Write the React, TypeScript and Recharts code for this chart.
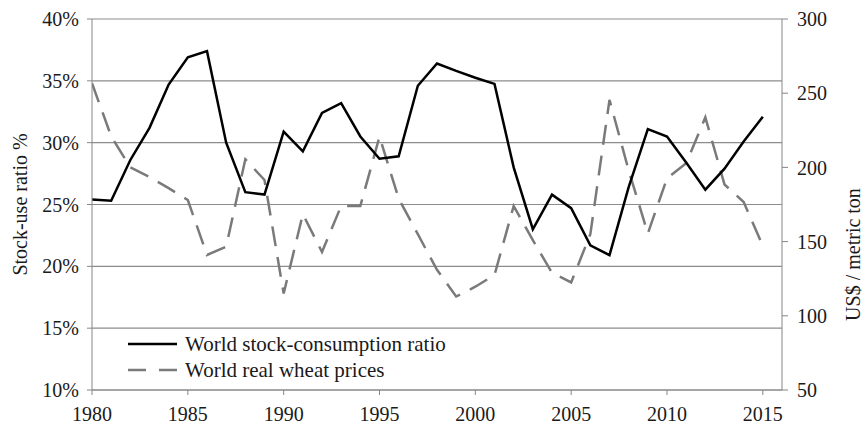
import { LineChart, Line, XAxis, YAxis, CartesianGrid, Legend, Label } from "recharts";

const YEARS = [
  1980, 1981, 1982, 1983, 1984, 1985, 1986, 1987, 1988, 1989,
  1990, 1991, 1992, 1993, 1994, 1995, 1996, 1997, 1998, 1999,
  2000, 2001, 2002, 2003, 2004, 2005, 2006, 2007, 2008, 2009,
  2010, 2011, 2012, 2013, 2014, 2015,
];

// stock-use ratio, %
const STOCK_RATIO = [
  25.4, 25.3, 28.6, 31.2, 34.7, 36.9, 37.4, 30.0, 26.0, 25.8,
  30.9, 29.3, 32.4, 33.2, 30.5, 28.7, 28.9, 34.6, 36.4, 35.8,
  35.25, 34.75, 28.0, 23.0, 25.8, 24.7, 21.7, 20.9, 26.4, 31.1,
  30.5, 28.4, 26.2, 27.9, 30.1, 32.1,
];

// real wheat price, US$ / metric ton
const WHEAT_PRICE = [
  256.7, 221, 200, 193.5, 186, 178, 141, 146.5, 205.5, 191.5,
  115, 168.5, 143, 174, 174, 220.7, 179, 155, 131, 113,
  119.6, 127.5, 174, 151, 129, 122.5, 155, 245.5, 198, 155.5,
  192.6, 202.8, 233.7, 188.5, 176.7, 147,
];

const X_TICKS = [1980, 1985, 1990, 1995, 2000, 2005, 2010, 2015];
const LEFT_TICKS = [10, 15, 20, 25, 30, 35, 40];
const RIGHT_TICKS = [50, 100, 150, 200, 250, 300];

const SERIES = [
  { key: "ratio", label: "World stock-consumption ratio", color: "#000000", dash: undefined },
  { key: "price", label: "World real wheat prices", color: "#7a7a7a", dash: "18 13" },
];

const FONT = "'Liberation Serif', 'DejaVu Serif', serif";
const AXIS = "#868686";
const tickStyle = { fontSize: 20, fill: "#1a1a1a", fontFamily: FONT };

const data = YEARS.map((y, i) => ({ year: y, ratio: STOCK_RATIO[i], price: WHEAT_PRICE[i] }));

const LegendBox = () => (
  <div style={{ fontFamily: FONT, fontSize: 21, color: "#1a1a1a", lineHeight: "26px" }}>
    {SERIES.map(s => (
      <div key={s.key} style={{ display: "flex", alignItems: "center" }}>
        <svg width={57} height={26}>
          <line x1={0} x2={49} y1={13} y2={13} stroke={s.color} strokeWidth={2.5} strokeDasharray={s.dash} />
        </svg>
        <span>{s.label}</span>
      </div>
    ))}
  </div>
);

const sideLabel = (text: string, shiftX: number, shiftY: number) => (props: any) => {
  const vb = props.viewBox;
  const cx = vb.x + vb.width / 2 + shiftX;
  const cy = vb.y + vb.height / 2 + shiftY;
  return (
    <text x={cx} y={cy} transform={`rotate(-90, ${cx}, ${cy})`} textAnchor="middle" dominantBaseline="central"
      fontSize={20} fill="#1a1a1a" fontFamily={FONT}>
      {text}
    </text>
  );
};

export default function App() {
  return (
    <div style={{ position: "absolute", left: 0, top: 0, background: "#fff" }}>
      <LineChart width={863} height={425} data={data} margin={{ top: 19, right: 0, left: 0, bottom: 0 }}
        style={{ fontFamily: FONT }}>
        <CartesianGrid vertical={false} stroke="#8c8c8c" strokeWidth={1.2} yAxisId="left" />
        <XAxis dataKey="year" type="number" domain={[1980, 2016]} ticks={X_TICKS} height={35}
          tick={tickStyle} tickSize={5} tickMargin={12} stroke={AXIS} interval={0} allowDataOverflow />
        <YAxis yAxisId="left" domain={[10, 40]} ticks={LEFT_TICKS} width={92} tickFormatter={v => `${v}%`}
          tick={tickStyle} tickSize={5} tickMargin={8} stroke={AXIS} interval={0}>
          <Label content={sideLabel("Stock-use ratio %", -26, 0)} />
        </YAxis>
        <YAxis yAxisId="right" orientation="right" domain={[50, 300]} ticks={RIGHT_TICKS} width={81}
          tick={tickStyle} tickSize={6} tickMargin={9} stroke={AXIS} interval={0}>
          <Label content={sideLabel("US$ / metric ton", 30, 50)} />
        </YAxis>
        <Legend content={() => <LegendBox />} layout="vertical" align="center" verticalAlign="middle"
          wrapperStyle={{ left: 128, top: 331, width: 360, height: 54 }} />
        <Line yAxisId="right" type="linear" dataKey="price" stroke="#7a7a7a" strokeWidth={2.5}
          strokeDasharray="20 11" dot={false} isAnimationActive={false} />
        <Line yAxisId="left" type="linear" dataKey="ratio" stroke="#000" strokeWidth={2.5}
          dot={false} isAnimationActive={false} />
      </LineChart>
    </div>
  );
}
